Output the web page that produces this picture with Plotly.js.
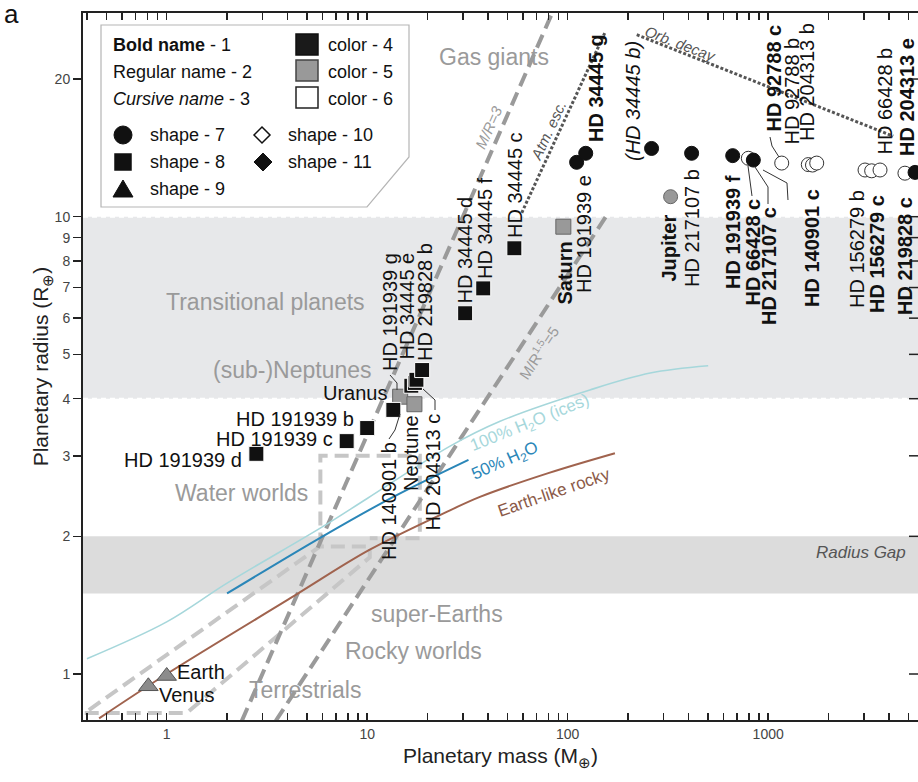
<!DOCTYPE html>
<html><head><meta charset="utf-8">
<script src="https://cdn.plot.ly/plotly-3.0.1.min.js"></script>
<style>html,body{margin:0;padding:0;background:#fff}#chart{width:918px;height:782px}</style>
</head><body><div id="chart"></div>
<script>
// ---------- DATA ----------
const xTickVals = [1,10,100,1000];
const xTickText = ['1','10','100','1000'];
const xMinorVals = [0.4,0.5,0.6,0.7,0.8,0.9,2,3,4,5,6,7,8,9,20,30,40,50,60,70,80,90,200,300,400,500,600,700,800,900,2000,3000,4000,5000];
const yTickVals = [1,2,3,4,5,6,7,8,9,10,20];
const yTickText = ['1','2','3','4','5','6','7','8','9','10','20'];

const blackSqNames  = ['HD 191939 d','HD 191939 c','HD 191939 b','HD 140901 b','HD 191939 g','HD 204313 c','HD 34445 e','HD 219828 b','HD 34445 d','HD 34445 f','HD 34445 c'];
const blackSqMass   = [2.8, 7.9, 10.0, 13.5, 16.6, 17.3, 17.6, 18.8, 30.8, 37.9, 54.2];
const blackSqRadius = [3.03, 3.23, 3.45, 3.78, 4.27, 4.33, 4.40, 4.62, 6.15, 6.97, 8.53];

const greySqNames  = ['Uranus','Neptune','Saturn'];
const greySqMass   = [14.6, 17.2, 95.1];
const greySqRadius = [4.04, 3.89, 9.51];

const blackCirNames  = ['HD 191939 e','HD 34445 g','HD 34445 b','HD 217107 b','HD 191939 f','HD 217107 c','HD 204313 e'];
const blackCirMass   = [110.8, 123, 262, 415, 665, 843, 5400];
const blackCirRadius = [13.15, 13.76, 14.1, 13.76, 13.6, 13.3, 12.5];

const greyCirNames  = ['Jupiter'];
const greyCirMass   = [326];
const greyCirRadius = [11.06];

const openCirNames  = ['HD 66428 c','HD 92788 c','HD 92788 b','HD 140901 c','HD 204313 b','HD 156279 b','HD 156279 c','HD 66428 b','HD 219828 c'];
const openCirMass   = [796, 1168, 1585, 1663, 1746, 3040, 3281, 3612, 4808];
const openCirRadius = [13.42, 13.1, 13.0, 12.97, 13.1, 12.65, 12.6, 12.65, 12.45];

const triNames  = ['Earth','Venus'];
const triMass   = [1.0, 0.81];
const triRadius = [0.99, 0.94];

// composition curves
const earthMass   = [0.46, 1, 4.3, 10.3, 25.9, 36.5, 80, 172];
const earthRadius = [0.80, 1.0, 1.48, 1.87, 2.28, 2.44, 2.75, 3.04];
const h2o50Mass   = [2.0, 6.0, 13.5, 32];
const h2o50Radius = [1.50, 2.0, 2.44, 2.94];
const h2o100Mass   = [0.40, 1, 2.0, 6.0, 10, 25.9, 46, 129, 258, 502];
const h2o100Radius = [1.08, 1.30, 1.58, 2.10, 2.42, 3.15, 3.57, 4.18, 4.55, 4.72];

// boundary lines
const mr3Mass = [2.37, 84],   mr3Radius = [0.79, 28];
const mr15Mass = [3.5, 155],  mr15Radius = [0.79, 10];
const atmMass = [59, 153],    atmRadius = [10.2, 25.2];
const orbMass = [221, 4200],  orbRadius = [25, 15];
const rockyMass   = [0.39, 1.26, 10.3, 10.3, 5.8, 0.39];
const rockyRadius = [0.822, 0.822, 1.80, 1.90, 1.90, 0.822];
const waterMass   = [5.84, 5.84, 18.3, 18.3, 10.3];
const waterRadius = [1.90, 3.0, 3.0, 1.98, 1.98];
const transBand = [4, 10];
const gapBand = [1.5, 2.0];

// ---------- LAYOUT HELPERS ----------
const PL=83, PR=918, PT=13, PB=720;
const px = X => (X-PL)/(PR-PL);
const py = Y => (PB-Y)/(PB-PT);
const FONT = 'Liberation Sans, Arial, Helvetica, sans-serif';

function mk(name, m, r, sym, size, fill, lc, lw){
  return {x:m, y:r, text:name, type:'scatter', mode:'markers', hoverinfo:'text',
    marker:{symbol:sym, size:size, color:fill, line:{color:lc, width:lw}}, showlegend:false};
}
function ln(m, r, color, width, dash, shape){
  return {x:m, y:r, type:'scatter', mode:'lines', hoverinfo:'skip', showlegend:false,
    line:{color:color, width:width, dash:dash||'solid', shape:shape||'linear'}};
}

const traces = [
  ln(rockyMass, rockyRadius, '#c6c6c6', 4, '14px,7px'),
  ln(waterMass, waterRadius, '#c6c6c6', 4, '14px,7px'),
  ln(mr3Mass, mr3Radius, '#9a9a9a', 4, '14px,7px'),
  ln(mr15Mass, mr15Radius, '#9a9a9a', 4, '14px,7px'),
  ln(atmMass, atmRadius, '#555', 3, '3px,2px'),
  ln(orbMass, orbRadius, '#555', 3, '3px,2px'),
  ln(h2o100Mass, h2o100Radius, '#a6d7db', 1.6, 'solid', 'spline'),
  ln(h2o50Mass, h2o50Radius, '#2a86b8', 2, 'solid', 'spline'),
  ln(earthMass, earthRadius, '#a0634e', 2, 'solid', 'spline'),
  mk(openCirNames, openCirMass, openCirRadius, 'circle', 14, '#fff', '#333', 1),
  mk(blackCirNames, blackCirMass, blackCirRadius, 'circle', 14, '#111', '#111', 1),
  mk(greyCirNames, greyCirMass, greyCirRadius, 'circle', 14, '#999', '#666', 1),
  mk(greySqNames, greySqMass, greySqRadius, 'square', 15, '#999', '#666', 1),
  mk(blackSqNames, blackSqMass, blackSqRadius, 'square', 15, '#111', '#fff', 1),
  mk(triNames, triMass, triRadius, 'triangle-up', 17, '#8c8c8c', '#555', 1)
];

// ---------- SHAPES ----------
const shapes = [
  {type:'rect', layer:'below', xref:'paper', x0:0, x1:1, yref:'y', y0:transBand[0], y1:transBand[1], fillcolor:'#e7e8ea', line:{width:0}},
  {type:'rect', layer:'below', xref:'paper', x0:0, x1:1, yref:'y', y0:gapBand[0], y1:gapBand[1], fillcolor:'#dcdcdc', line:{width:0}},
  {type:'line', layer:'below', xref:'paper', x0:0, x1:1, yref:'y', y0:transBand[1], y1:transBand[1], line:{color:'#fff', width:2, dash:'5px,4px'}},
  {type:'line', layer:'below', xref:'paper', x0:0, x1:1, yref:'y', y0:transBand[0], y1:transBand[0], line:{color:'#fff', width:2, dash:'5px,4px'}},
];
// legend box
function P(X,Y){return px(X).toFixed(5)+' '+py(Y).toFixed(5);}
shapes.push({type:'path', xref:'paper', yref:'paper', layer:'above',
  path:'M '+P(101,25)+' L '+P(409,25)+' L '+P(409,157)+' L '+P(367,207)+' L '+P(101,207)+' Z',
  fillcolor:'#fff', line:{color:'#b5b5b5', width:1.2}});
function rectPx(x0,y0,x1,y1,fill,lc){
  shapes.push({type:'rect', xref:'paper', yref:'paper', layer:'above', x0:px(x0), x1:px(x1), y0:py(y1), y1:py(y0), fillcolor:fill, line:{color:lc, width:1.5}});
}
rectPx(296,34,318,55,'#1a1a1a','#111');
rectPx(296,60,318,81,'#999','#444');
rectPx(296,87,318,108,'#fff','#222');
shapes.push({type:'circle', xref:'paper', yref:'paper', layer:'above', x0:px(114), x1:px(132), y0:py(144), y1:py(126), fillcolor:'#111', line:{color:'#111', width:1}});
rectPx(115,154,131,170,'#111','#111');
shapes.push({type:'path', xref:'paper', yref:'paper', layer:'above', path:'M '+P(123,180)+' L '+P(133,197)+' L '+P(113,197)+' Z', fillcolor:'#111', line:{color:'#111', width:1}});
shapes.push({type:'path', xref:'paper', yref:'paper', layer:'above', path:'M '+P(262,127)+' L '+P(270,135)+' L '+P(262,143)+' L '+P(254,135)+' Z', fillcolor:'#fff', line:{color:'#111', width:1.5}});
shapes.push({type:'path', xref:'paper', yref:'paper', layer:'above', path:'M '+P(263,153)+' L '+P(272,162)+' L '+P(263,171)+' L '+P(254,162)+' Z', fillcolor:'#111', line:{color:'#111', width:1}});
// inward ticks on the right frame edge
yTickVals.forEach(v=>{
  shapes.push({type:'line', xref:'paper', yref:'y', x0:px(909), x1:1, y0:v, y1:v, layer:'above', line:{color:'#222', width:1.5}});
});

// leader lines (pixel polylines)
const leaders = [
  [[770,137],[772,146],[779,157]],
  [[748,166],[752,196]],
  [[755,167],[768,187],[768,204]],
  [[763,170],[787,183],[788,200]],
  [[390,375],[397,383],[397,390]],
  [[389,439],[395,430],[400,414]],
  [[435,410],[435,400],[423,389]]
];
leaders.forEach(pts=>{
  shapes.push({type:'path', xref:'paper', yref:'paper', layer:'above',
    path: pts.map((p,i)=>(i?'L ':'M ')+P(p[0],p[1])).join(' '), line:{color:'#333', width:1}});
});

// ---------- ANNOTATIONS ----------
const ann = [];
function A(text, X, Y, o){
  o = o||{};
  ann.push(Object.assign({xref:'paper', yref:'paper', x:px(X), y:py(Y), text:text, showarrow:false,
    xanchor:'center', yanchor:'middle', font:{family:FONT, size:20, color:'#111'}}, o));
}
// vertical point labels
const V = (t, X, Y, ya) => A(t, X, Y, {textangle:-90, yanchor:ya});
V('HD 34445 d',464,306,'bottom');
V('HD 34445 f',485,281,'bottom');
V('HD 34445 c',515,240,'bottom');
V('HD 191939 g',390,373,'bottom');
V('HD 34445 e',407,362,'bottom');
V('HD 219828 b',425,363,'bottom');
V('HD 191939 e',584,173,'top');
V('<b>Saturn</b>',564,240,'top');
V('<b>HD 34445 g</b>',596,144,'bottom');
V('<i>(HD 34445 b)</i>',633,163,'bottom');
V('<b>Jupiter</b>',668,213,'top');
V('HD 217107 b',692,167,'top');
V('<b>HD 191939 f</b>',733,173,'top');
V('<b>HD 66428 c</b>',752,197,'top');
V('<b>HD 217107 c</b>',769,205,'top');
V('<b>HD 140901 c</b>',812,187,'top');
V('HD 156279 b',857,188,'top');
V('<b>HD 156279 c</b>',877,193,'top');
V('<b>HD 219828 c</b>',905,195,'top');
V('<b>HD 92788 c</b>',773,134,'bottom');
V('HD 92788 b',791,147,'bottom');
V('HD 204313 b',807,143,'bottom');
V('HD 66428 b',884,157,'bottom');
V('<b>HD 204313 e</b>',907,158,'bottom');
V('HD 140901 b',389,440,'top');
V('Neptune',411,413,'top');
V('HD 204313 c',432,412,'top');
// horizontal point labels
A('HD 191939 d',244,460,{xanchor:'right'});
A('HD 191939 c',335,439,{xanchor:'right'});
A('HD 191939 b',356,419,{xanchor:'right'});
A('Uranus',389,393,{xanchor:'right'});
A('Earth',175,672,{xanchor:'left'});
A('Venus',157,695,{xanchor:'left'});
// region labels
const G = {size:23, color:'#9a9a9a', family:FONT};
A('Gas giants',494,57,{font:G});
A('Transitional planets',265,302,{font:G});
A('(sub-)Neptunes',292,370,{font:G});
A('Water worlds',241,493,{font:G});
A('super-Earths',437,614,{font:G});
A('Rocky worlds',413,651,{font:G});
A('Terrestrials',305,690,{font:G});
A('<i>Radius Gap</i>',908,552,{xanchor:'right', font:{size:17, color:'#555', family:FONT}});
// line labels
A('<i>M/R=3</i>',489,128,{textangle:-66, font:{size:15, color:'#9a9a9a', family:FONT}});
A('M/R<sup>1.5</sup>=5',538,353,{textangle:-57, font:{size:15, color:'#9a9a9a', family:FONT}});
A('<i>Atm. esc.</i>',548,130,{textangle:-65, font:{size:15, color:'#555', family:FONT}});
A('<i>Orb. decay</i>',680,44,{textangle:21, font:{size:15, color:'#555', family:FONT}});
A('100% H<sub>2</sub>O (ices)',530,424,{textangle:-22, font:{size:17, color:'#a6d7db', family:FONT}});
A('50% H<sub>2</sub>O',505,462,{textangle:-24, font:{size:17, color:'#2a86b8', family:FONT}});
A('Earth-like rocky',554,492,{textangle:-19, font:{size:17, color:'#8b5a48', family:FONT}});
// legend text
const LF = {size:18, color:'#111', family:FONT};
A('<b>Bold name</b> - 1',111,45,{xanchor:'left', font:LF});
A('Regular name - 2',111,72,{xanchor:'left', font:LF});
A('<i>Cursive name</i> - 3',111,99,{xanchor:'left', font:LF});
A('color - 4',326,45,{xanchor:'left', font:LF});
A('color - 5',326,72,{xanchor:'left', font:LF});
A('color - 6',326,99,{xanchor:'left', font:LF});
A('shape - 7',148,135,{xanchor:'left', font:LF});
A('shape - 8',148,162,{xanchor:'left', font:LF});
A('shape - 9',148,189,{xanchor:'left', font:LF});
A('shape - 10',286,135,{xanchor:'left', font:LF});
A('shape - 11',286,162,{xanchor:'left', font:LF});
// panel letter
ann.push({xref:'paper', yref:'paper', x:px(2), y:py(14), text:'a', showarrow:false, xanchor:'left', yanchor:'middle', font:{family:FONT, size:26, color:'#111'}});

const layout = {
  width:918, height:782,
  margin:{l:PL, r:918-PR, t:PT, b:782-PB, pad:0},
  paper_bgcolor:'#fff', plot_bgcolor:'rgba(0,0,0,0)',
  font:{family:FONT},
  showlegend:false,
  xaxis:{type:'log', range:[(PL-166.7)/200.5, (PR-166.7)/200.5], tickmode:'array', tickvals:xTickVals, ticktext:xTickText,
    ticks:'inside', ticklen:7, tickwidth:1.5, tickcolor:'#222', showgrid:false, zeroline:false,
    minor:{tickmode:'array', tickvals:xMinorVals, ticks:'inside', ticklen:7, tickwidth:1.5, tickcolor:'#222', showgrid:false},
    showline:true, linecolor:'#222', linewidth:2, mirror:'ticks',
    tickfont:{size:14, color:'#444', family:FONT},
    title:{text:'Planetary mass (M<sub>⊕</sub>)', font:{size:21, color:'#222', family:FONT}, standoff:8}},
  yaxis:{type:'log', range:[(674-PB)/457.3, (674-PT)/457.3], tickmode:'array', tickvals:yTickVals, ticktext:yTickText,
    ticks:'outside', ticklen:8, tickwidth:1.5, tickcolor:'#222', showgrid:false, zeroline:false,
    showline:true, linecolor:'#222', linewidth:2, mirror:true,
    tickfont:{size:14, color:'#444', family:FONT},
    title:{text:'Planetary radius (R<sub>⊕</sub>)', font:{size:21, color:'#222', family:FONT}, standoff:0}},
  shapes:shapes,
  annotations:ann
};
Plotly.newPlot('chart', traces, layout, {displayModeBar:false, staticPlot:true});
</script></body></html>
